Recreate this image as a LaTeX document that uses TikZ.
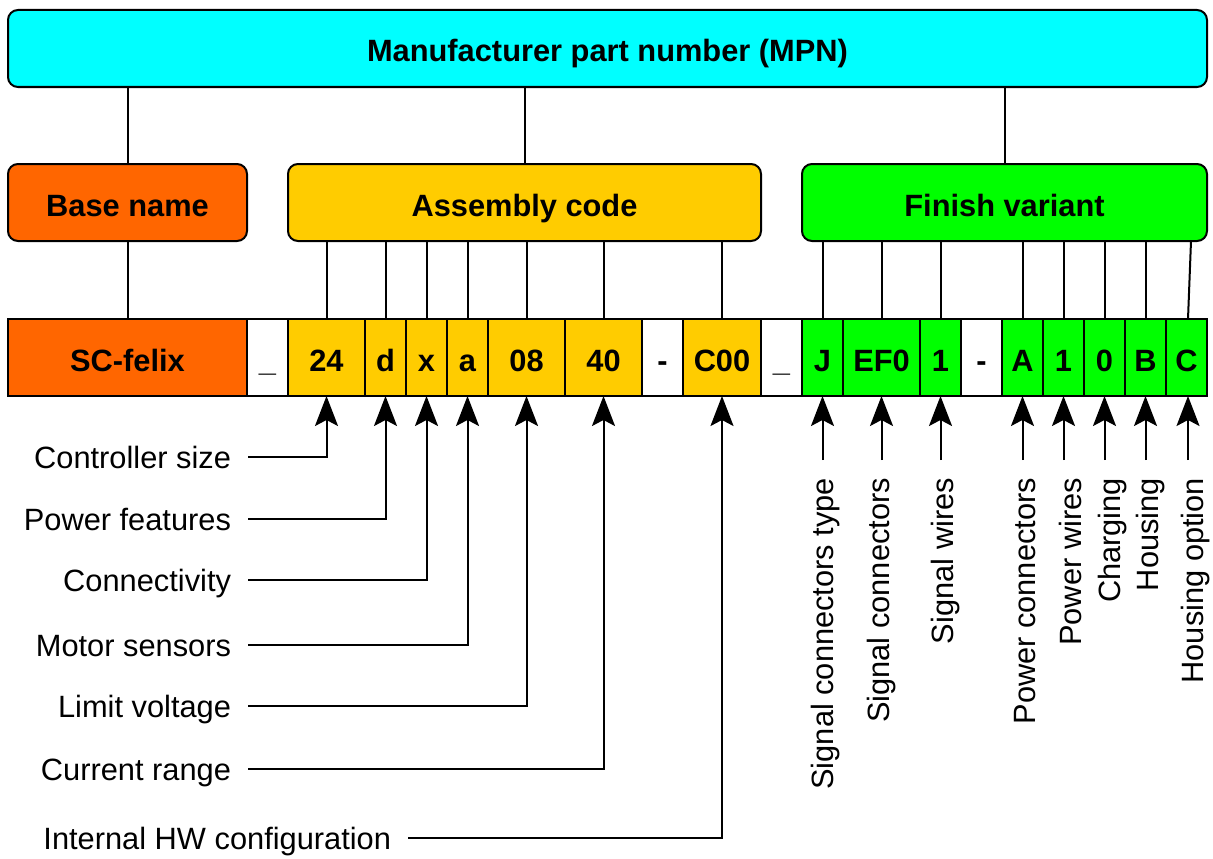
\documentclass[tikz,border=0pt]{standalone}
\usepackage{fontspec}
\setmainfont{Liberation Sans}
\usetikzlibrary{arrows.meta,calc}
\definecolor{mpncol}{HTML}{00FFFF}
\definecolor{basecol}{HTML}{FF6600}
\definecolor{asmcol}{HTML}{FFCC00}
\definecolor{fincol}{HTML}{00FF00}
\begin{document}
\begin{tikzpicture}[x=1pt,y=-1pt,
  every node/.style={font=\fontsize{30.8}{37}\selectfont},
  box/.style={draw, line width=2pt, inner sep=0pt, outer sep=0pt, minimum height=77pt,
    text height=27pt, text depth=0pt, font=\fontsize{30.8}{37}\selectfont\bfseries},
  grp/.style={box, rounded corners=10pt},
  seg/.style={box, minimum width=41pt},
  wseg/.style={box, minimum width=77pt},
  conn/.style={line width=2pt},
  arr/.style={line width=2pt, -{Stealth[length=30pt,width=23pt,inset=6pt]}},
  lab/.style={inner sep=0pt, outer sep=0pt, outer xsep=17pt, text height=22pt, text depth=0pt, anchor=east},
  rlab/.style={lab, rotate=90, outer xsep=18pt}
]
\useasboundingbox (0,0) rectangle (1213,859);

% group boxes
\node[grp, minimum width=1199pt, fill=mpncol] (mpn) at (607.5,48.5) {Manufacturer part number (MPN)};
\node[grp, minimum width=239pt, fill=basecol] (base) at (127.5,202.5) {Base name};
\node[grp, minimum width=473pt, fill=asmcol] (asm) at (524.5,202.5) {Assembly code};
\node[grp, minimum width=405pt, fill=fincol] (fin) at (1004.5,202.5) {Finish variant};

% segment row
\node[box, minimum width=239pt, fill=basecol] (sSC) at (127.5,357.5) {SC-felix};
\node[seg, fill=white] (u1) at (267.5,357.5) {\_};
\node[wseg, fill=asmcol] (s24) at (326.5,357.5) {24};
\node[seg, fill=asmcol] (sd) at (385.5,357.5) {d};
\node[seg, fill=asmcol] (sx) at (426.5,357.5) {x};
\node[seg, fill=asmcol] (sa) at (467.5,357.5) {a};
\node[wseg, fill=asmcol] (s08) at (526.5,357.5) {08};
\node[wseg, fill=asmcol] (s40) at (603.5,357.5) {40};
\node[seg, fill=white] (h1) at (662.5,357.5) {-};
\node[wseg, fill=asmcol, minimum width=78pt] (sC00) at (722,357.5) {C00};
\node[seg, fill=white] (u2) at (781.5,357.5) {\_};
\node[seg, fill=fincol] (sJ) at (822.5,357.5) {J};
\node[wseg, fill=fincol] (sEF) at (881.5,357.5) {EF0};
\node[seg, fill=fincol] (s1) at (940.5,357.5) {1};
\node[seg, fill=white] (h2) at (981.5,357.5) {-};
\node[seg, fill=fincol] (sA) at (1022.5,357.5) {A};
\node[seg, fill=fincol] (sP1) at (1063.5,357.5) {1};
\node[seg, fill=fincol] (s0) at (1104.5,357.5) {0};
\node[seg, fill=fincol] (sB) at (1145.5,357.5) {B};
\node[seg, fill=fincol] (sCC) at (1186.5,357.5) {C};

% tree connectors
\draw[conn] (mpn.south -| base.north) -- (base.north);
\draw[conn] (mpn.south -| asm.north) -- (asm.north);
\draw[conn] (mpn.south -| fin.north) -- (fin.north);
\draw[conn] (base.south) -- (sSC.north);
\foreach \s in {s24,sd,sx,sa,s08,s40,sC00}
  \draw[conn] (asm.south -| \s.north) -- (\s.north);
\foreach \s in {sJ,sEF,s1,sA,sP1,s0,sB}
  \draw[conn] (fin.south -| \s.north) -- (\s.north);
\draw[conn] ($(fin.south -| sCC.north)+(4.5,0)$) -- ($(sCC.north)+(1.5,0)$);

% left labels
\node[lab] (l1) at (248,457) {Controller size};
\node[lab] (l2) at (248,519) {Power features};
\node[lab] (l3) at (248,580) {Connectivity};
\node[lab] (l4) at (248,645) {Motor sensors};
\node[lab] (l5) at (248,706) {Limit voltage};
\node[lab] (l6) at (248,769) {Current range};
\node[lab] (l7) at (408,838) {Internal HW configuration};
\draw[arr] (l1.east) -| (s24.south);
\draw[arr] (l2.east) -| (sd.south);
\draw[arr] (l3.east) -| (sx.south);
\draw[arr] (l4.east) -| (sa.south);
\draw[arr] (l5.east) -| (s08.south);
\draw[arr] (l6.east) -| (s40.south);
\draw[arr] (l7.east) -| (sC00.south);

% right labels
\node[rlab] (r1) at (822.5,460) {Signal connectors type};
\node[rlab] (r2) at (878,460) {Signal connectors};
\node[rlab] (r3) at (942,460) {Signal wires};
\node[rlab] (r4) at (1024,460) {Power connectors};
\node[rlab] (r5) at (1070.5,460) {Power wires};
\node[rlab] (r6) at (1109,460) {Charging};
\node[rlab] (r7) at (1147,460) {Housing};
\node[rlab] (r8) at (1192,460) {Housing option};
\draw[arr] (sJ.south |- r1.east) -- (sJ.south);
\draw[arr] (sEF.south |- r2.east) -- (sEF.south);
\draw[arr] (s1.south |- r3.east) -- (s1.south);
\draw[arr] (sA.south |- r4.east) -- (sA.south);
\draw[arr] (sP1.south |- r5.east) -- (sP1.south);
\draw[arr] (s0.south |- r6.east) -- (s0.south);
\draw[arr] (sB.south |- r7.east) -- (sB.south);
\draw[arr] ($(sCC.south |- r8.east)+(1.5,0)$) -- ($(sCC.south)+(1.5,0)$);
\end{tikzpicture}
\end{document}
